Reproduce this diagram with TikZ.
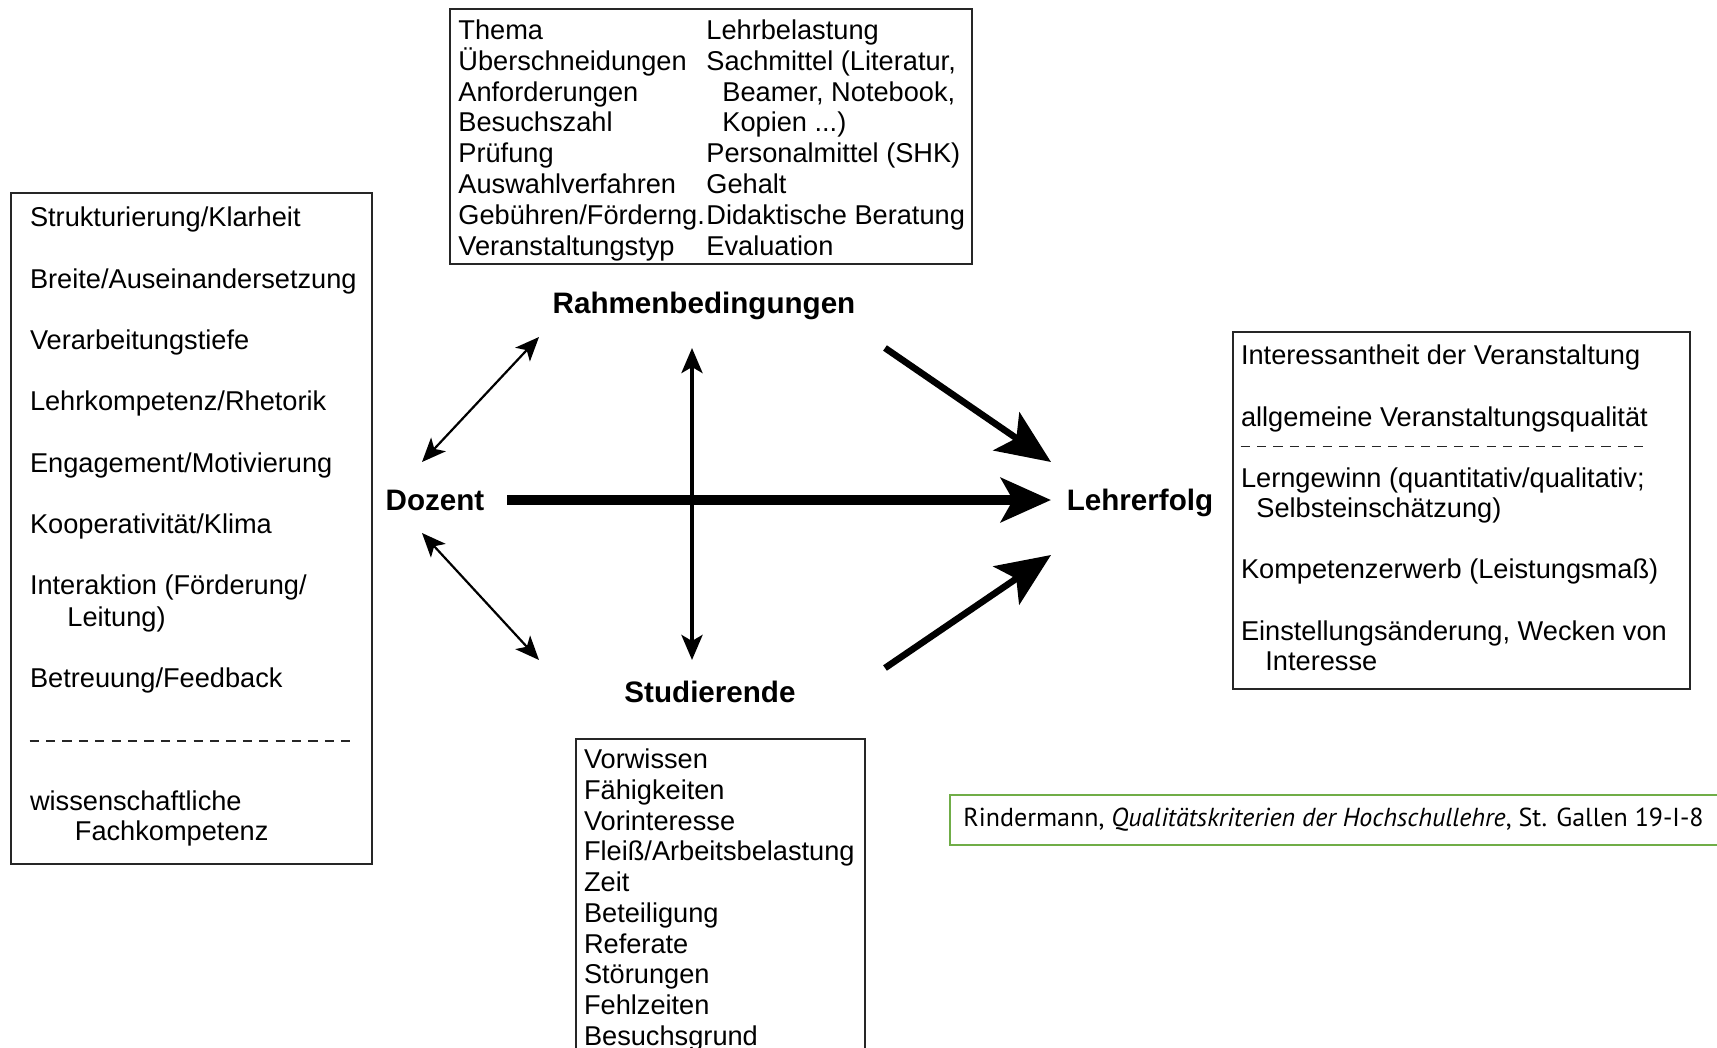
\documentclass[tikz,border=0pt]{standalone}
\usepackage{fontspec}
\setmainfont{Liberation Sans}
\newfontfamily\citefont{PT Sans}
\usetikzlibrary{arrows.meta}
\begin{document}
\begin{tikzpicture}[x=0.5pt,y=-0.5pt,
  txt/.style={font=\fontsize{13.6}{15.4}\selectfont, inner sep=0pt, anchor=base west},
  lbl/.style={font=\fontsize{14.8}{17}\selectfont\bfseries, inner sep=0pt, anchor=base},
  box/.style={draw=black!85, line width=0.75pt, inner sep=0pt},
  sepline/.style={draw=black!85, line width=0.6pt, dash pattern=on 4.6pt off 3.6pt},
  thinarr/.style={line width=1.1pt, {Stealth[length=12pt,width=10pt,inset=3pt]}-{Stealth[length=12pt,width=10pt,inset=3pt]}},
  midarr/.style={line width=2pt, {Stealth[length=12.5pt,width=10.5pt,inset=3pt]}-{Stealth[length=12.5pt,width=10.5pt,inset=3pt]}},
  bigarr/.style={line width=3.3pt, -{Stealth[length=27pt,width=23pt,inset=6pt]}},
  hugearr/.style={line width=5pt, -{Stealth[length=25pt,width=22pt,inset=6pt]}}
]
\useasboundingbox (0,0) rectangle (1717,1048);
\fill[white] (0,0) rectangle (1717,1048);

% ---------- boxes ----------
\node[box, minimum width=261pt, minimum height=127.5pt] (topbox) at (711,136.5) {};
\node[box, minimum width=180.5pt, minimum height=335.5pt] (leftbox) at (191.5,528.5) {};
\node[box, minimum width=228.5pt, minimum height=178.5pt] (rightbox) at (1461.5,510.5) {};
\node[box, minimum width=144.5pt, minimum height=165.5pt] (botbox) at (720.5,904.5) {};
\node[draw={rgb,255:red,112;green,173;blue,71}, line width=0.9pt, inner sep=0pt,
      minimum width=390pt, minimum height=25pt] (citebox) at (1340,820) {};

% ---------- top box text ----------
\foreach \t [count=\i] in {Thema, Überschneidungen, Anforderungen, Besuchszahl, Prüfung, Auswahlverfahren, Gebühren/Förderng., Veranstaltungstyp}
  \node[txt] (tl\i) at (458,{39.6+30.8*(\i-1)}) {\t};
\node[txt] (tr1) at (706,39.6) {Lehrbelastung};
\node[txt] (tr2) at (706,70.4) {Sachmittel (Literatur,};
\node[txt] (tr3) at (722,101.2) {Beamer, Notebook,};
\node[txt] (tr4) at (722,132.0) {Kopien ...)};
\node[txt] (tr5) at (706,162.8) {Personalmittel (SHK)};
\node[txt] (tr6) at (706,193.6) {Gehalt};
\node[txt] (tr7) at (706,224.4) {Didaktische Beratung};
\node[txt] (tr8) at (706,255.2) {Evaluation};

% ---------- left box text ----------
\node[txt] (l1) at (29.6,226.8) {Strukturierung/Klarheit};
\node[txt] (l2) at (29.6,288.2) {Breite/Auseinandersetzung};
\node[txt] (l3) at (29.6,349.5) {Verarbeitungstiefe};
\node[txt] (l4) at (29.6,410.9) {Lehrkompetenz/Rhetorik};
\node[txt] (l5) at (29.6,472.2) {Engagement/Motivierung};
\node[txt] (l6) at (29.6,533.5) {Kooperativität/Klima};
\node[txt] (l7) at (29.6,594.8) {Interaktion (Förderung/};
\node[txt] (l7b) at (67,626.6) {Leitung)};
\node[txt] (l8) at (29.6,687.9) {Betreuung/Feedback};
\draw[sepline] (29.6,741) -- (357,741);
\node[txt] (l9) at (29.6,810.5) {wissenschaftliche};
\node[txt] (l9b) at (74.5,840.1) {Fachkompetenz};

% ---------- right box text ----------
\node[txt] (r1) at (1240.6,364.9) {Interessantheit der Veranstaltung};
\node[txt] (r2) at (1240.6,426.2) {allgemeine Veranstaltungsqualität};
\draw[sepline] (1240.6,446.8) -- (1650,446.8);
\node[txt] (r3) at (1240.6,487.5) {Lerngewinn (quantitativ/qualitativ;};
\node[txt] (r3b) at (1256,517.1) {Selbsteinschätzung)};
\node[txt] (r4) at (1240.6,578.4) {Kompetenzerwerb (Leistungsmaß)};
\node[txt] (r5) at (1240.6,640.8) {Einstellungsänderung, Wecken von};
\node[txt] (r5b) at (1265,670.4) {Interesse};

% ---------- bottom box text ----------
\foreach \t [count=\i] in {Vorwissen, Fähigkeiten, Vorinteresse, Fleiß/Arbeitsbelastung, Zeit, Beteiligung, Referate, Störungen, Fehlzeiten, Besuchsgrund}
  \node[txt] (b\i) at (583.6,{768.8+30.7*(\i-1)}) {\t};

% ---------- main labels ----------
\node[lbl] (rahmen) at (704,313) {Rahmenbedingungen};
\node[lbl] (dozent) at (435,510) {Dozent};
\node[lbl] (lehrerfolg) at (1140,510) {Lehrerfolg};
\node[lbl] (stud) at (710,702) {Studierende};

% ---------- connector end points ----------
\coordinate (dozNE) at (422,462);
\coordinate (rahSW) at (539,337);
\coordinate (dozSE) at (422,533);
\coordinate (stuNW) at (539,660);
\coordinate (rahS) at (692,348);
\coordinate (stuN) at (692,660);
\coordinate (dozE) at (507,500);
\coordinate (lehW) at (1051,500);
\coordinate (rahSE) at (885,348);
\coordinate (lehNW) at (1051,462);
\coordinate (stuNE) at (885,668);
\coordinate (lehSW) at (1051,555);

% ---------- connectors ----------
\draw[thinarr] (dozNE) -- (rahSW);
\draw[thinarr] (dozSE) -- (stuNW);
\draw[midarr] (rahS) -- (stuN);
\draw[hugearr] (dozE) -- (lehW);
\draw[bigarr] (rahSE) -- (lehNW);
\draw[bigarr] (stuNE) -- (lehSW);

% ---------- citation ----------
\node[anchor=base west, inner sep=0pt, font=\citefont\fontsize{13}{15}\selectfont] (cite) at (963,826)
  {Rindermann, \textit{Qualitätskriterien der Hochschullehre}, St. Gallen 19-I-8};
\end{tikzpicture}
\end{document}
